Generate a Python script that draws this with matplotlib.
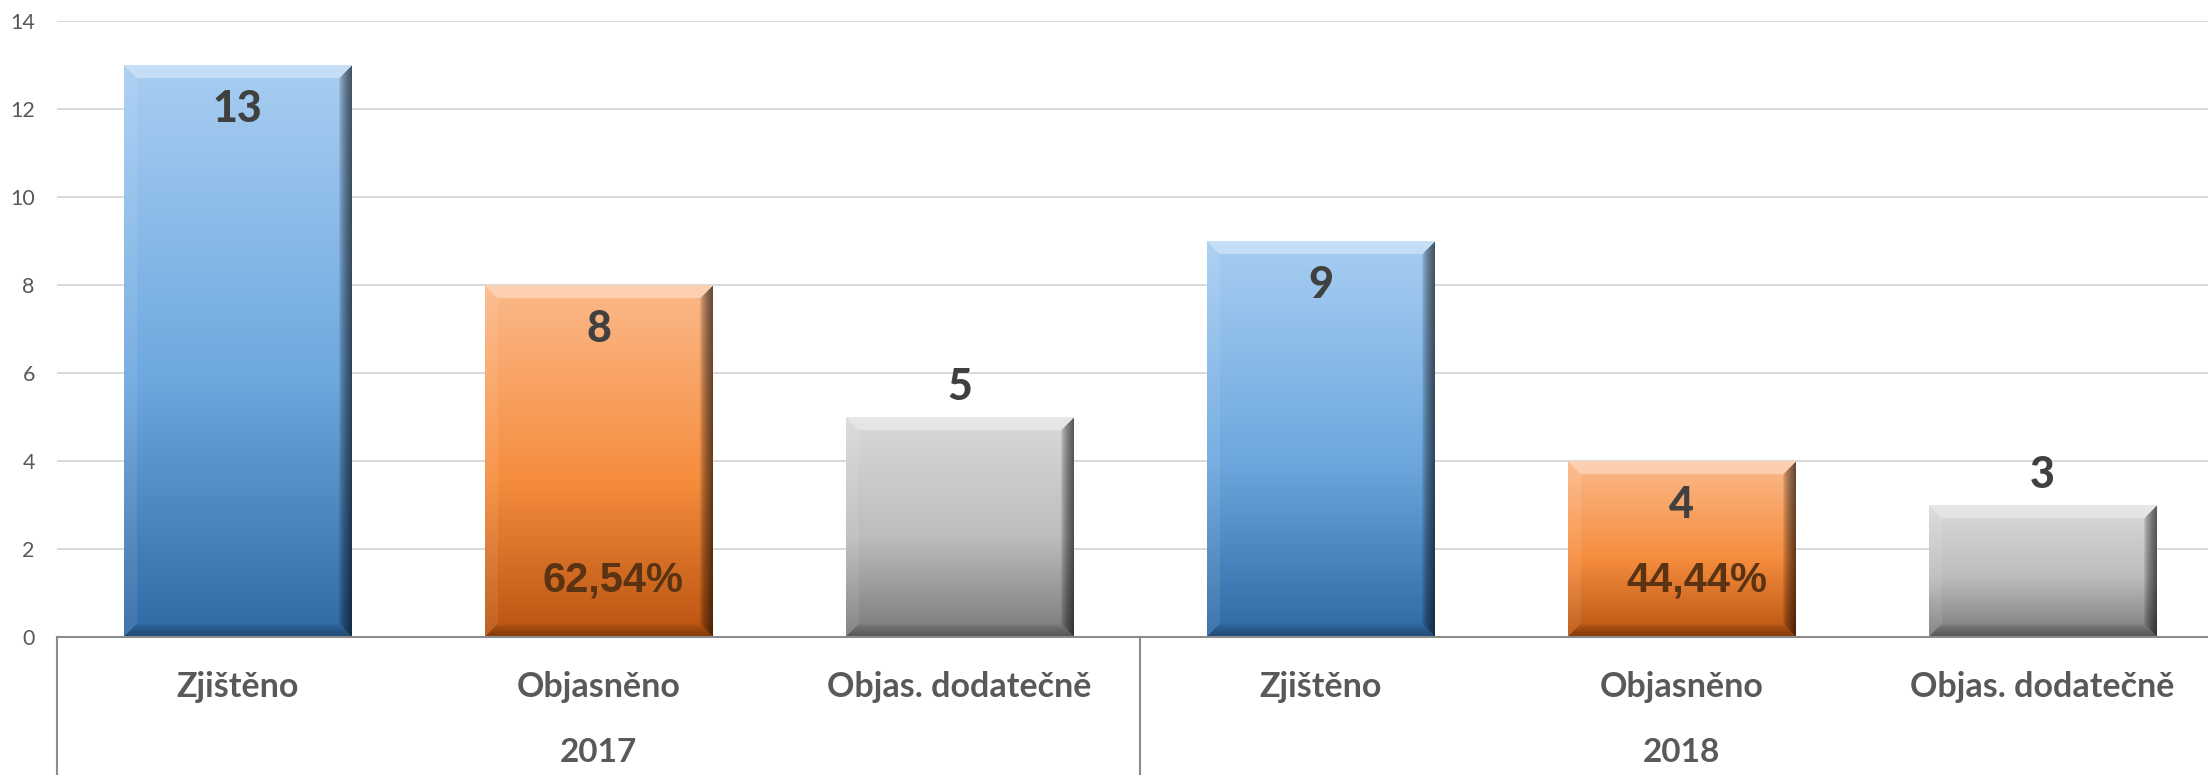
import numpy as np
import matplotlib.pyplot as plt
import matplotlib.colors as mcolors

plt.rcParams['font.family'] = ['Lato', 'DejaVu Sans']

# data
years = ["2017", "2018"]
categories = ["Zjištěno", "Objasněno", "Objas. dodatečně"]
values_2017 = [13, 8, 5]
values_2018 = [9, 4, 3]
percent_labels = ["62,54%", "44,44%"]

# gradient colours per category (top, middle, bottom)
cat_colors = [("#a8cef2", "#6ea8df", "#2f69a4"),
              ("#fbb98a", "#f68d3e", "#b9530f"),
              ("#dadada", "#bcbcbc", "#7a7a7a")]


def bevel_image(stops, wpx, hpx, b=13):
    H, W = max(int(hpx), 2), max(int(wpx), 2)
    py = np.arange(H)[:, None] + 0.5
    px = np.arange(W)[None, :] + 0.5
    t = (py / H)[..., None]
    c0, c1, c2 = [np.array(mcolors.to_rgb(c)) for c in stops]
    img = np.where(t < 0.55, c0 + (c1 - c0) * (t / 0.55),
                   c1 + (c2 - c1) * ((t - 0.55) / 0.45))
    img = np.broadcast_to(img, (H, W, 3)).copy()
    d = np.stack(np.broadcast_arrays(py, H - py, px, W - px))
    idx = d.argmin(axis=0)
    dmin = d.min(axis=0)
    inb = dmin < b
    fade = np.clip(1 - dmin / b, 0, 1) ** 0.6
    # top, bottom, left, right
    mix = [(1.0, 0.35, False), (0.0, 0.3, True), (1.0, 0.08, False), (0.0, 0.6, True)]
    for k, (target, s, fading) in enumerate(mix):
        m = inb & (idx == k)
        st = (s * fade[m])[:, None] if fading else s
        img[m] = img[m] * (1 - st) + target * st
    return img


fig = plt.figure(figsize=(22.08, 7.75), dpi=100)
ax = fig.add_axes([57 / 2208, 1 - 637 / 775, 2166 / 2208, 616 / 775])

values = values_2017 + values_2018
x = np.arange(len(values))
ax.set_xlim(-0.5, len(values) - 0.5)
ax.set_ylim(0, 14)

bars = ax.bar(x, values, width=0.63, color='none', zorder=2)
fig.canvas.draw()
for i, bar in enumerate(bars):
    x0, w, h = bar.get_x(), bar.get_width(), bar.get_height()
    p0 = ax.transData.transform((x0, 0))
    p1 = ax.transData.transform((x0 + w, h))
    img = bevel_image(cat_colors[i % 3], p1[0] - p0[0], p1[1] - p0[1])
    ax.imshow(img, extent=[x0, x0 + w, 0, h], aspect='auto', zorder=2,
              interpolation='bilinear')
ax.set_xlim(-0.5, len(values) - 0.5)
ax.set_ylim(0, 14)

# value labels
for i, bar in enumerate(bars):
    cx = bar.get_x() + bar.get_width() / 2
    v = bar.get_height()
    off = -44 if i % 3 != 2 else 30
    ax.annotate(str(v), xy=(cx, v), xytext=(0, off), textcoords='offset pixels',
                ha='center', va='center', fontsize=31, fontweight=900,
                color='#404040', zorder=4)

# percentage labels on orange bars
for g, lab in enumerate(percent_labels):
    bar = bars[g * 3 + 1]
    cx = bar.get_x() + bar.get_width() / 2
    ax.annotate(lab, xy=(cx, 0), xytext=(15, 56), textcoords='offset pixels',
                ha='center', va='center', fontsize=30, fontweight='bold',
                family='Liberation Sans', color='#5a3312', zorder=4)

# category and year labels
for i in x:
    ax.annotate(categories[i % 3], xy=(i, 0), xytext=(0, -50),
                textcoords='offset pixels', ha='center', va='center',
                fontsize=24.5, fontweight='bold', color='#595959',
                annotation_clip=False)
for g, yr in enumerate(years):
    ax.annotate(yr, xy=(g * 3 + 1, 0), xytext=(0, -116),
                textcoords='offset pixels', ha='center', va='center',
                fontsize=24, fontweight='bold', color='#595959',
                annotation_clip=False)

for xs in [-0.5, 2.5, 5.5]:
    ax.plot([xs, xs], [0, -3.3], color='#8c8c8c', lw=1.5, clip_on=False)

ax.set_yticks(range(0, 15, 2))
ax.set_xticks([])
ax.tick_params(axis='y', length=0, pad=16, labelsize=15.5, labelcolor='#595959')
ax.yaxis.grid(True, color='#d9d9d9', lw=1.4)
ax.set_axisbelow(True)
for s in ['top', 'right', 'left']:
    ax.spines[s].set_visible(False)
ax.spines['bottom'].set_color('#8c8c8c')
ax.spines['bottom'].set_linewidth(1.5)

fig.savefig('out.png', dpi=100)
